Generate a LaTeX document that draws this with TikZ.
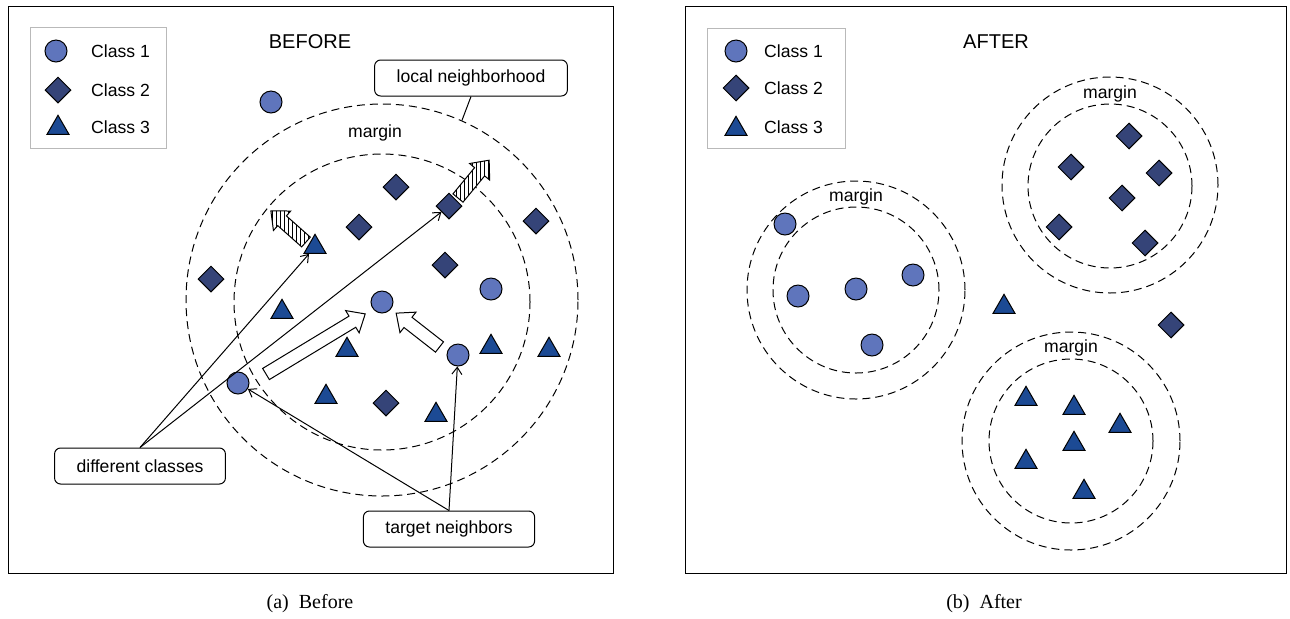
\documentclass[tikz,border=0pt]{standalone}
\usepackage{fontspec}
\setmainfont{Liberation Sans}
\newfontfamily\capfont{Liberation Serif}
\usetikzlibrary{positioning}
\usetikzlibrary{shapes.geometric}
\usetikzlibrary{arrows.meta}
\usetikzlibrary{patterns.meta}
\definecolor{clsOne}{RGB}{95,117,188}
\definecolor{clsTwo}{RGB}{53,68,120}
\definecolor{clsThree}{RGB}{28,74,148}
\tikzset{one/.style = {circle, draw, fill=clsOne, minimum size=11pt, inner sep=0}}
\tikzset{two/.style = {diamond, draw, fill=clsTwo, minimum size=13pt, inner sep=0}}
\tikzset{three/.style = {regular polygon, regular polygon sides=3, draw,
                         fill=clsThree, minimum size=12.7pt, inner sep=0}}
\tikzset{hood/.style = {circle, draw, dash pattern=on 4pt off 2.5pt, inner sep=0}}
\tikzset{tag/.style = {draw, rounded corners=3pt, fill=white, inner xsep=11pt,
                       minimum height=18pt}}
\tikzset{lead/.style = {-{Straight Barb[length=3.5pt,width=5pt]}}}
\tikzset{fat/.style = {draw, fill=white, line join=miter}}
\tikzset{hatched/.style = {fat, postaction={pattern={Lines[angle=90,distance=2pt,line width=0.4pt]}}}}
\newcommand{\fatarrow}[4]{%
  \begin{scope}[shift={#2}, rotate=#3]
    \draw[#1] (0,-6.5) -- ({#4-15},-6.5) -- ({#4-15},-13) -- (#4,0)
      -- ({#4-15},13) -- ({#4-15},6.5) -- (0,6.5) -- cycle;
  \end{scope}}

\begin{document}
\begin{tikzpicture}[x=0.5pt, y=-0.5pt, line width=0.5pt,
                    font=\fontsize{8.8}{10.5}\selectfont]
  \useasboundingbox (0,0) rectangle (1290,618);
  % panels
  \draw (8,6) rectangle (613,573);
  \draw (685,6) rectangle (1286,573);

  % ---- before ----
  \draw[gray!55] (30,27) rectangle (166,148);
  \node[one] (bk1) at (56,51) {};
  \node[two] (bk2) at (58,90) {};
  \node[three] (bk3) at (58,128) {};
  \node[anchor=west] (bl1) at (84,51) {Class 1};
  \node[anchor=west] (bl2) at (84,90) {Class 2};
  \node[anchor=west] (bl3) at (84,127) {Class 3};
  \node[font=\fontsize{10}{12}\selectfont] (btitle) at (310,42) {BEFORE};

  \node[hood, minimum size=196pt] (bouter) at (382,300) {};
  \node[hood, minimum size=148pt] (binner) at (382,302) {};
  \node (bmargin) at (375,133) {margin};

  \node[one] (bc1) at (271,102) {};
  \node[one] (bc2) at (382,302) {};
  \node[one] (bc3) at (491,289) {};
  \node[one] (bc4) at (458,355) {};
  \node[one] (bc5) at (238,383) {};
  \node[two] (bd1) at (396,187) {};
  \node[two] (bd2) at (359,227) {};
  \node[two] (bd3) at (449,206) {};
  \node[two] (bd4) at (536,221) {};
  \node[two] (bd5) at (445,265) {};
  \node[two] (bd6) at (211,279) {};
  \node[two] (bd7) at (386,403) {};
  \node[three] (bt1) at (315,247) {};
  \node[three] (bt2) at (282,312) {};
  \node[three] (bt3) at (347,350) {};
  \node[three] (bt4) at (491,347) {};
  \node[three] (bt5) at (549,350) {};
  \node[three] (bt6) at (326,397) {};
  \node[three] (bt7) at (436,415) {};

  % pulls and pushes
  \fatarrow{fat}{(266,374)}{31.2}{116}
  \fatarrow{fat}{(439.5,347)}{142}{55}
  \fatarrow{hatched}{(306,242)}{138.4}{47}
  \fatarrow{hatched}{(458,198)}{50.5}{49}

  \node[tag] (hoodtag) at (471,78) {local neighborhood};
  \node[tag] (difftag) at (140,466) {different classes};
  \node[tag] (targtag) at (449,529) {target neighbors};
  \draw (hoodtag.south) -- (bouter.66.7);
  \draw[lead] (difftag.north) -- (bt1);
  \draw[lead] (difftag.north) -- (bd3);
  \draw[lead] (targtag.north) -- (bc5);
  \draw[lead] (targtag.north) -- (bc4);

  \node[font=\capfont\fontsize{10}{12}\selectfont] (bcap) at (310,604) {(a)\enspace Before};

  % ---- after ----
  \draw[gray!55] (707,28) rectangle (845,148);
  \node[one] (ak1) at (736,51) {};
  \node[two] (ak2) at (736,88) {};
  \node[three] (ak3) at (736,129) {};
  \node[anchor=west] (al1) at (757,51) {Class 1};
  \node[anchor=west] (al2) at (757,88) {Class 2};
  \node[anchor=west] (al3) at (757,127) {Class 3};
  \node[font=\fontsize{10}{12}\selectfont] (atitle) at (996,42) {AFTER};

  \node[hood, minimum size=109pt] (aouter1) at (856,290) {};
  \node[hood, minimum size=83pt] (ainner1) at (856,290) {};
  \node (amargin1) at (856,197) {margin};
  \node[one] (ac1) at (785,224) {};
  \node[one] (ac2) at (798,296) {};
  \node[one] (ac3) at (856,289) {};
  \node[one] (ac4) at (913,275) {};
  \node[one] (ac5) at (872,345) {};

  \node[hood, minimum size=108pt] (aouter2) at (1110,185) {};
  \node[hood, minimum size=82pt] (ainner2) at (1110,186) {};
  \node (amargin2) at (1110,94) {margin};
  \node[two] (ad1) at (1129,136) {};
  \node[two] (ad2) at (1071,167) {};
  \node[two] (ad3) at (1159,173) {};
  \node[two] (ad4) at (1122,198) {};
  \node[two] (ad5) at (1059,227) {};
  \node[two] (ad6) at (1145,243) {};

  \node[hood, minimum size=109pt] (aouter3) at (1071,441) {};
  \node[hood, minimum size=82pt] (ainner3) at (1071,441) {};
  \node (amargin3) at (1071,348) {margin};
  \node[three] (at1) at (1026,399) {};
  \node[three] (at2) at (1074,408) {};
  \node[three] (at3) at (1120,426) {};
  \node[three] (at4) at (1074,444) {};
  \node[three] (at5) at (1026,462) {};
  \node[three] (at6) at (1084,492) {};

  \node[three] (at7) at (1004,307) {};
  \node[two] (ad7) at (1171,325) {};

  \node[font=\capfont\fontsize{10}{12}\selectfont] (acap) at (984,604) {(b)\enspace After};
\end{tikzpicture}
\end{document}
